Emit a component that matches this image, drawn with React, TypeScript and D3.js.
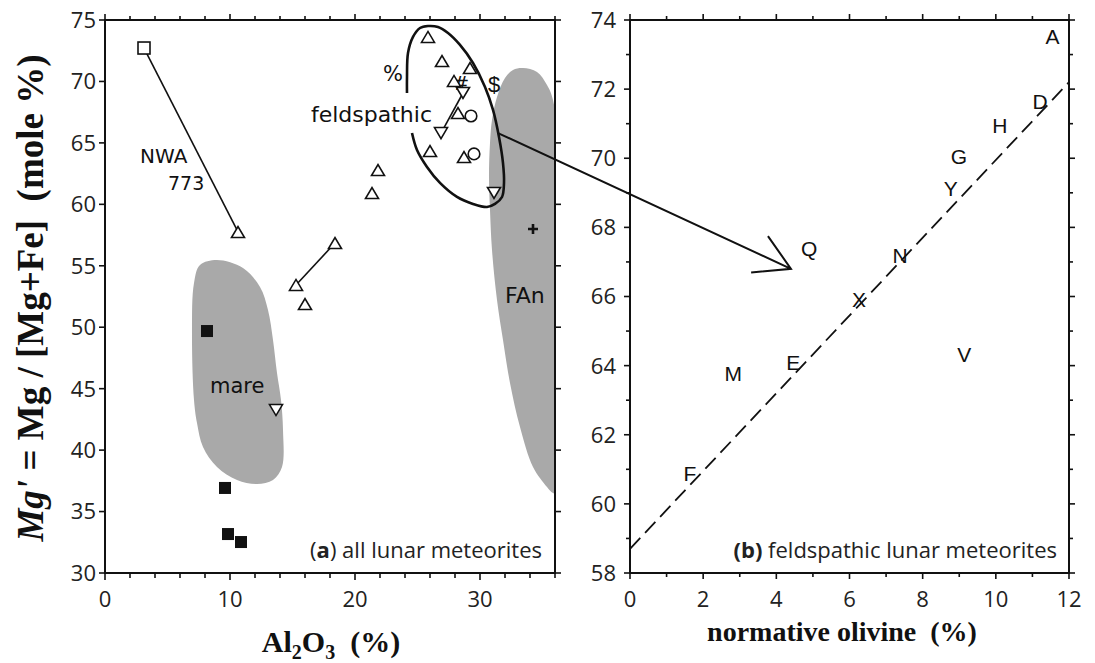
import React from 'react';
import * as d3 from 'd3';

type P = [number, number];

// ---- Panel (a): Al2O3 (%) vs Mg' (mole %) ----
const openSquares: P[] = [[3.12, 72.72]];
const filledSquares: P[] = [[8.16, 49.69], [9.6, 36.92], [9.84, 33.17], [10.88, 32.52]];
const upTriangles: P[] = [
  [10.64, 57.75], [18.4, 56.85], [15.28, 53.44], [16.0, 51.89], [21.84, 62.79], [21.36, 60.92],
  [25.84, 73.62], [26.96, 71.66], [29.2, 71.09], [27.92, 70.04], [28.24, 67.43], [26.0, 64.34], [28.72, 63.85],
];
const downTriangles: P[] = [[13.68, 43.26], [28.64, 69.06], [26.88, 65.8], [31.12, 60.92]];
const circles: P[] = [[29.28, 67.19], [29.52, 64.1]];
const plusMarks: P[] = [[34.24, 57.99]];
const tieLines: P[][] = [
  [[3.12, 72.72], [10.64, 57.75]],
  [[18.4, 56.85], [15.28, 53.44]],
  [[28.64, 69.06], [26.88, 65.8]],
];
const mareField: P[] = [
  [8.96, 55.47], [11.04, 54.82], [12.4, 53.27], [13.04, 51.4], [13.44, 48.96], [13.76, 46.27], [14.08, 44.08],
  [14.24, 41.64], [14.16, 38.63], [13.44, 37.57], [12.16, 37.24], [10.56, 37.57], [8.96, 38.63], [7.84, 40.25],
  [7.36, 42.21], [7.12, 44.08], [6.96, 49.53], [7.12, 53.6], [7.6, 55.06],
];
const fanField: P[] = [
  [33.44, 71.09], [34.56, 70.77], [35.36, 69.71], [35.84, 68.49], [36.56, 60.35], [36.56, 36.35], [35.84, 36.51],
  [35.36, 37.0], [34.24, 38.63], [33.2, 41.88], [32.4, 45.46], [31.84, 48.96], [31.36, 52.21], [30.96, 56.28],
  [30.8, 59.54], [30.72, 62.22], [30.8, 64.99], [30.96, 66.86], [31.36, 68.73], [32.0, 70.28], [32.64, 70.93],
];
const feldspathicOutline: P[] = [
  [24.16, 69.06], [24.16, 70.36], [24.24, 72.31], [24.64, 73.62], [25.2, 74.35], [25.84, 74.51], [26.64, 74.43],
  [27.44, 73.94], [28.4, 72.97], [29.44, 71.5], [30.4, 69.55], [31.04, 67.68], [31.52, 65.48], [31.84, 63.36],
  [31.92, 61.74], [31.76, 60.6], [31.2, 60.03], [30.56, 59.78], [29.44, 60.03], [28.16, 60.6], [26.8, 61.74],
  [25.76, 63.04], [24.96, 64.42], [24.56, 65.8],
];
const xTicksA = d3.range(0, 37, 2);
const xLabelsA = [0, 10, 20, 30];
const yTicksA = d3.range(30, 76, 5);

// ---- Panel (b): normative olivine (%) vs Mg' ----
const olivineNames = ['A', 'D', 'H', 'G', 'Y', 'Q', 'N', 'X', 'E', 'M', 'V', 'F'];
const olivineValues = [11.55, 11.21, 10.11, 8.99, 8.77, 4.9, 7.38, 6.26, 4.46, 2.82, 9.14, 1.64];
const mgValues = [73.52, 71.64, 70.96, 70.05, 69.13, 67.39, 67.2, 65.9, 64.08, 63.76, 64.31, 60.88];
const trendLine: P[] = [[0, 58.7], [12, 72.2]];
const xTicksB = d3.range(0, 13, 1);
const yTicksB = d3.range(58, 75, 1);

// arrow from the feldspathic field (panel a coords) to panel b (panel b coords)
const arrowStartA: P = [31.44, 65.8];
const arrowTipB: P = [4.4, 66.8];

const TICK_FONT = "'Open Sans', sans-serif";
const HAND_FONT = "'DejaVu Sans', sans-serif";
const SERIF = "'Liberation Serif', serif";

export default function App() {
  const xA = d3.scaleLinear().domain([0, 36]).range([105, 555]);
  const yA = d3.scaleLinear().domain([30, 75]).range([573, 20]);
  const xB = d3.scaleLinear().domain([0, 12]).range([630, 1069]);
  const yB = d3.scaleLinear().domain([58, 74]).range([573, 20]);

  const lineA = d3.line<P>().x((d) => xA(d[0])).y((d) => yA(d[1]));
  const closedA = d3.line<P>().x((d) => xA(d[0])).y((d) => yA(d[1])).curve(d3.curveCatmullRomClosed.alpha(0.5));
  const openCurveA = d3.line<P>().x((d) => xA(d[0])).y((d) => yA(d[1])).curve(d3.curveCatmullRom.alpha(0.5));
  const lineB = d3.line<P>().x((d) => xB(d[0])).y((d) => yB(d[1]));

  const ink = '#111';
  const gray = '#a9a9a9';

  const tri = (x: number, y: number, up: boolean) => {
    const w = 6.5, h = 5.5;
    return up
      ? `M${x - w},${y + h}L${x + w},${y + h}L${x},${y - h}Z`
      : `M${x - w},${y - h}L${x + w},${y - h}L${x},${y + h}Z`;
  };

  // arrow geometry
  const sx = xA(arrowStartA[0]), sy = yA(arrowStartA[1]);
  const tx = xB(arrowTipB[0]), ty = yB(arrowTipB[1]);
  const ang = Math.atan2(ty - sy, tx - sx) + Math.PI;
  const barb = 40, spread = (30 * Math.PI) / 180;
  const b1: P = [tx + barb * Math.cos(ang + spread), ty + barb * Math.sin(ang + spread)];
  const b2: P = [tx + barb * Math.cos(ang - spread), ty + barb * Math.sin(ang - spread)];

  return (
    <svg width={1095} height={663} style={{ position: 'absolute', left: 0, top: 0, background: '#fff' }}>
      <defs>
        <clipPath id="clipA">
          <rect x={105} y={20} width={450} height={553} />
        </clipPath>
      </defs>

      {/* ---------- Panel A ---------- */}
      <g clipPath="url(#clipA)">
        <path d={closedA(mareField) || ''} fill={gray} />
        <path d={closedA(fanField) || ''} fill={gray} />
      </g>

      {/* texts of panel A */}
      <g fontFamily={HAND_FONT} fill={ink}>
        <text x={140} y={163} fontSize={20}>NWA</text>
        <text x={168} y={190} fontSize={19}>773</text>
        <text x={432} y={122} fontSize={22} textAnchor="end">feldspathic</text>
        <text x={210} y={393} fontSize={21}>mare</text>
        <text x={505} y={303} fontSize={22}>FAn</text>
        <text x={393} y={81} fontSize={21} textAnchor="middle">%</text>
        <text x={494} y={92} fontSize={22} textAnchor="middle" fill={ink} fontFamily="'Liberation Sans', sans-serif">$</text>
        <text x={461} y={90} fontSize={20} textAnchor="middle">#</text>
      </g>

      {/* feldspathic outline */}
      <path d={openCurveA(feldspathicOutline) || ''} fill="none" stroke={ink} strokeWidth={2.6} />

      {/* tie lines */}
      {tieLines.map((l, i) => (
        <path key={'tl' + i} d={lineA(l) || ''} stroke={ink} strokeWidth={1.6} fill="none" />
      ))}

      {/* markers */}
      {openSquares.map((d, i) => (
        <rect key={'os' + i} x={xA(d[0]) - 6} y={yA(d[1]) - 6} width={12} height={12} fill="#fff" stroke={ink} strokeWidth={1.6} />
      ))}
      {filledSquares.map((d, i) => (
        <rect key={'fs' + i} x={xA(d[0]) - 6} y={yA(d[1]) - 6} width={12} height={12} fill={ink} />
      ))}
      {upTriangles.map((d, i) => (
        <path key={'ut' + i} d={tri(xA(d[0]), yA(d[1]), true)} fill="#fff" stroke={ink} strokeWidth={1.6} />
      ))}
      {downTriangles.map((d, i) => (
        <path key={'dt' + i} d={tri(xA(d[0]), yA(d[1]), false)} fill="#fff" stroke={ink} strokeWidth={1.6} />
      ))}
      {circles.map((d, i) => (
        <circle key={'c' + i} cx={xA(d[0])} cy={yA(d[1])} r={5.8} fill="#fff" stroke={ink} strokeWidth={1.6} />
      ))}
      {plusMarks.map((d, i) => (
        <path key={'p' + i} d={`M${xA(d[0]) - 5},${yA(d[1])}h10M${xA(d[0])},${yA(d[1]) - 5}v10`} stroke={ink} strokeWidth={2.6} />
      ))}

      {/* frame A */}
      <rect x={105} y={20} width={450} height={553} fill="none" stroke={ink} strokeWidth={2} />
      {xTicksA.map((t) => {
        const len = t % 10 === 0 ? 7 : 5;
        return (
          <g key={'xa' + t}>
            <line x1={xA(t)} x2={xA(t)} y1={573} y2={573 + len} stroke={ink} strokeWidth={1.6} />
            <line x1={xA(t)} x2={xA(t)} y1={20} y2={20 - len + 1} stroke={ink} strokeWidth={1.6} />
          </g>
        );
      })}
      {yTicksA.map((t) => (
        <g key={'ya' + t}>
          <line x1={105} x2={99} y1={yA(t)} y2={yA(t)} stroke={ink} strokeWidth={1.6} />
          <line x1={555} x2={561} y1={yA(t)} y2={yA(t)} stroke={ink} strokeWidth={1.6} />
          <text x={96} y={yA(t)} dy="0.36em" textAnchor="end" fontFamily={TICK_FONT} fontSize={22} fill="#222">{t}</text>
        </g>
      ))}
      {xLabelsA.map((t) => (
        <text key={'xla' + t} x={xA(t)} y={607} textAnchor="middle" fontFamily={TICK_FONT} fontSize={22} fill="#222">{t}</text>
      ))}
      <text x={542} y={558} textAnchor="end" fontFamily={TICK_FONT} fontSize={22} fill="#222">
        (<tspan fontWeight="bold">a</tspan>) all lunar meteorites
      </text>

      {/* ---------- Panel B ---------- */}
      <path d={lineB(trendLine) || ''} stroke={ink} strokeWidth={1.8} strokeDasharray="15,7" fill="none" />
      <g fontFamily="'Liberation Sans', Arial, sans-serif" fontSize={21} fill={ink} textAnchor="middle">
        {olivineNames.map((n, i) => (
          <text key={'ol' + n} x={xB(olivineValues[i])} y={yB(mgValues[i]) + 7.5}>{n}</text>
        ))}
      </g>
      <rect x={630} y={20} width={439} height={553} fill="none" stroke={ink} strokeWidth={2} />
      {xTicksB.map((t) => {
        const len = t % 2 === 0 ? 6 : 4;
        return (
          <g key={'xb' + t}>
            <line x1={xB(t)} x2={xB(t)} y1={573} y2={573 + len} stroke={ink} strokeWidth={1.6} />
            <line x1={xB(t)} x2={xB(t)} y1={20} y2={20 - len} stroke={ink} strokeWidth={1.6} />
            {t % 2 === 0 && (
              <text x={xB(t)} y={607} textAnchor="middle" fontFamily={TICK_FONT} fontSize={22} fill="#222">{t}</text>
            )}
          </g>
        );
      })}
      {yTicksB.map((t) => {
        const len = t % 2 === 0 ? 6 : 4;
        return (
          <g key={'yb' + t}>
            <line x1={630} x2={630 - len} y1={yB(t)} y2={yB(t)} stroke={ink} strokeWidth={1.6} />
            <line x1={1069} x2={1069 + len} y1={yB(t)} y2={yB(t)} stroke={ink} strokeWidth={1.6} />
            {t % 2 === 0 && (
              <text x={616} y={yB(t)} dy="0.36em" textAnchor="end" fontFamily={TICK_FONT} fontSize={22} fill="#222">{t}</text>
            )}
          </g>
        );
      })}
      <text x={1057} y={558} textAnchor="end" fontFamily={TICK_FONT} fontSize={22} fill="#222">
        <tspan fontWeight="bold">(b)</tspan> feldspathic lunar meteorites
      </text>

      {/* ---------- Arrow ---------- */}
      <path d={`M${sx},${sy}L${tx},${ty}M${b1[0]},${b1[1]}L${tx},${ty}L${b2[0]},${b2[1]}`} fill="none" stroke={ink} strokeWidth={2} />

      {/* ---------- Axis titles ---------- */}
      <text x={331} y={652} textAnchor="middle" fontFamily={SERIF} fontWeight="bold" fontSize={30} fill={ink}>
        Al<tspan fontSize={20} dy={7}>2</tspan><tspan dy={-7}>O</tspan><tspan fontSize={20} dy={7}>3</tspan><tspan dy={-7}>{'\u00a0\u00a0(%)'}</tspan>
      </text>
      <text x={842} y={641} textAnchor="middle" fontFamily={SERIF} fontWeight="bold" fontSize={28} fill={ink}>
        {'normative olivine\u00a0\u00a0(%)'}
      </text>
      <text transform="translate(43,298) rotate(-90)" textAnchor="middle" fontFamily={SERIF} fontWeight="bold" fontSize={37} fill={ink}>
        <tspan fontStyle="italic">Mg'</tspan>{' = Mg / [Mg+Fe]\u00a0\u00a0(mole %)'}
      </text>
    </svg>
  );
}
